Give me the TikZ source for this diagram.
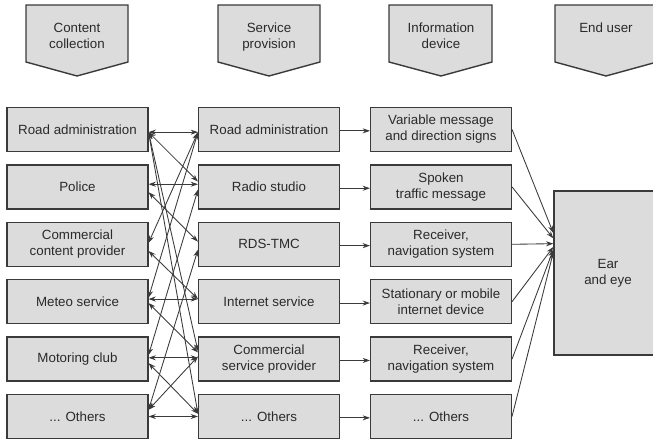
\documentclass[tikz,border=0pt]{standalone}
\usepackage{fontspec}
\setmainfont{Liberation Sans}
\usetikzlibrary{arrows.meta}
\definecolor{boxfill}{HTML}{DCDCDC}
\definecolor{edge}{HTML}{3A3A3A}
\definecolor{txt}{HTML}{2A2A2A}
\begin{document}
\begin{tikzpicture}[x=0.75pt,y=-0.75pt,
  box/.style={draw=edge,fill=boxfill,line width=1.05pt,minimum width=105.5pt,minimum height=33pt,
    inner sep=0pt,align=center,text=txt,font=\fontsize{10}{12}\selectfont},
  hdr/.style={draw=edge,fill=boxfill,line width=1.05pt},
  hdrtext/.style={anchor=north,inner sep=0pt,align=center,text=txt,font=\fontsize{10}{12}\selectfont},
  conn/.style={draw=edge,line width=0.65pt,{Stealth[length=5.5pt,width=3.8pt]}-{Stealth[length=5.5pt,width=3.8pt]}},
  arr/.style={draw=edge,line width=0.65pt,-{Stealth[length=5.5pt,width=3.8pt]}}]
\useasboundingbox (0,0) rectangle (653,439);
\clip (0,0) rectangle (653,439);
% header pentagons
\draw[hdr] (26,5) -- (128,5) -- (128,62) -- (77,76) -- (26,62) -- cycle;
\draw[hdr] (218,5) -- (320,5) -- (320,62) -- (269,76) -- (218,62) -- cycle;
\draw[hdr] (389,5) -- (492,5) -- (492,62) -- (441,76) -- (389,62) -- cycle;
\draw[hdr] (555,5) -- (657,5) -- (657,62) -- (606,76) -- (555,62) -- cycle;
\node[hdrtext] (h1) at (77,22.5) {Content\\collection};
\node[hdrtext] (h2) at (269,22.5) {Service\\provision};
\node[hdrtext] (h3) at (441,22.5) {Information\\device};
\node[hdrtext] (h4) at (606,22.5) {End user};
% column 1
\node[box] (a1) at (77.5,129.5) {Road administration};
\node[box] (a2) at (77.5,186.9) {Police};
\node[box] (a3) at (77.5,244.3) {Commercial\\content provider};
\node[box] (a4) at (77.5,301.7) {Meteo service};
\node[box] (a5) at (77.5,359.1) {Motoring club};
\node[box] (a6) at (77.5,416.5) {... Others};
% column 2
\node[box] (b1) at (269,129.5) {Road administration};
\node[box] (b2) at (269,186.9) {Radio studio};
\node[box] (b3) at (269,244.3) {RDS-TMC};
\node[box] (b4) at (269,301.7) {Internet service};
\node[box] (b5) at (269,359.1) {Commercial\\service provider};
\node[box] (b6) at (269,416.5) {... Others};
% column 3
\node[box] (c1) at (441,129.5) {Variable message\\and direction signs};
\node[box] (c2) at (441,186.9) {Spoken\\traffic message};
\node[box] (c3) at (441,244.3) {Receiver,\\navigation system};
\node[box] (c4) at (441,301.7) {Stationary or mobile\\internet device};
\node[box] (c5) at (441,359.1) {Receiver,\\navigation system};
\node[box] (c6) at (441,416.5) {... Others};
% end user
\node[box,minimum width=81pt,minimum height=123pt] (e) at (608,273) {Ear\\and eye};
% content collection <-> service provision
\draw[conn] ([yshift=-2pt]a1.east) -- ([yshift=-2pt]b1.west);
\draw[conn] ([yshift=2pt]a2.east) -- ([yshift=2pt]b2.west);
\draw[conn] ([yshift=2pt]a4.east) -- ([yshift=2pt]b4.west);
\draw[conn] ([yshift=1pt]a5.east) -- ([yshift=1pt]b5.west);
\draw[conn] (a6.east) -- (b6.west);
\draw[conn] ([yshift=-2pt]a1.east) -- ([yshift=4pt]b2.west);
\draw[conn] ([yshift=-4pt]a2.east) -- ([yshift=2pt]b3.west);
\draw[conn] ([yshift=-5pt]a3.east) -- ([yshift=2pt]b4.west);
\draw[conn] ([yshift=-1pt]a4.east) -- ([yshift=5pt]b5.west);
\draw[conn] ([yshift=-3pt]a5.east) -- ([yshift=2pt]b6.west);
\draw[conn] ([yshift=-2pt]a1.east) -- ([yshift=6pt]b5.west);
\draw[conn] ([yshift=-2pt]a1.east) -- ([yshift=2pt]b6.west);
\draw[conn] ([yshift=1pt]a3.east) -- ([yshift=-2pt]b1.west);
\draw[conn] ([yshift=3pt]a4.east) -- ([yshift=-2pt]b1.west);
\draw[conn] ([yshift=3pt]a5.east) -- ([yshift=-2pt]b2.west);
\draw[conn] ([yshift=5pt]a6.east) -- ([yshift=-4pt]b3.west);
\draw[conn] ([yshift=5pt]a6.east) -- ([yshift=2pt]b5.west);
% service provision -> information device
\foreach \i in {1,...,6}{
  \draw[arr] ([yshift=-1pt]b\i.east) -- ([yshift=-1pt]c\i.west);
}
% information device -> end user
\draw[arr] (c1.east) -- ([yshift=30pt]e.west);
\draw[arr] (c2.east) -- ([yshift=26pt]e.west);
\draw[arr] (c3.east) -- ([yshift=22pt]e.west);
\draw[arr] (c4.east) -- ([yshift=19.5pt]e.west);
\draw[arr] (c5.east) -- ([yshift=17.5pt]e.west);
\draw[arr] (c6.east) -- ([yshift=15.5pt]e.west);
\end{tikzpicture}
\end{document}
